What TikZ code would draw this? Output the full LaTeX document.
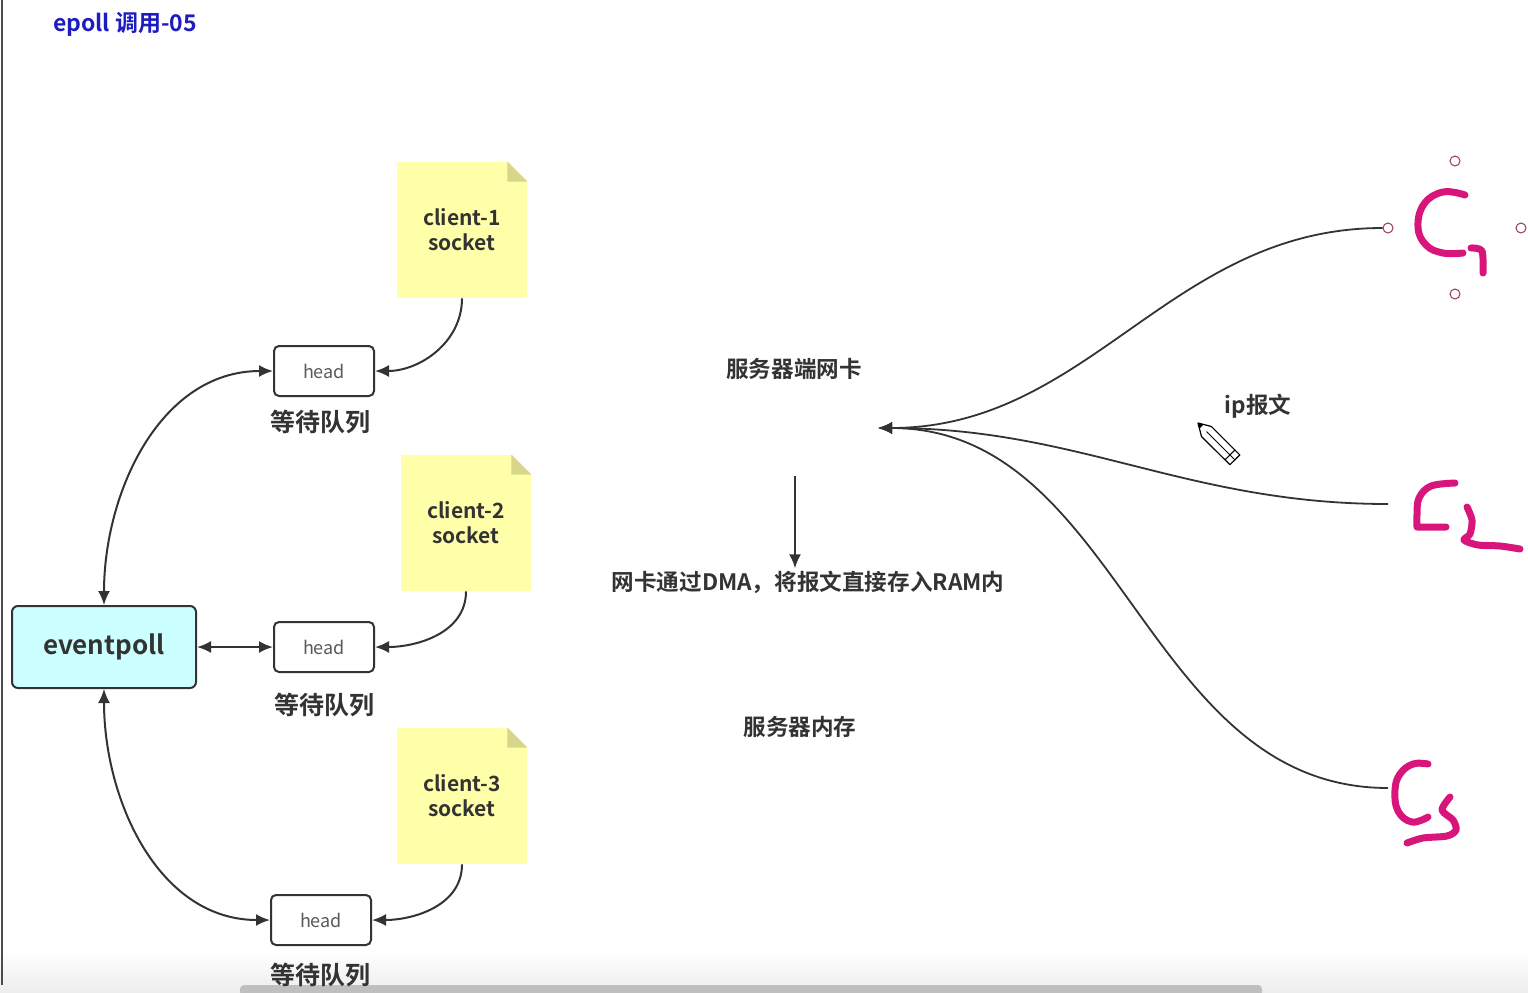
\documentclass[tikz,border=0pt]{standalone}
\usepackage{fontspec}
\setmainfont{Noto Sans CJK SC}[BoldFont={Noto Sans CJK SC Bold}]
\usetikzlibrary{arrows.meta,positioning}
\definecolor{noteyellow}{HTML}{FFFFAA}
\definecolor{notefold}{HTML}{D8D68C}
\definecolor{epcyan}{HTML}{CCFFFF}
\definecolor{inkpink}{HTML}{D8157A}
\definecolor{titleblue}{HTML}{1C1CC0}
\definecolor{linegray}{HTML}{333333}
\definecolor{handlered}{HTML}{9E3A4E}

\tikzset{
  note/.style={fill=noteyellow, minimum width=65pt, minimum height=68pt, align=center,
    font=\fontsize{10.5}{12.5}\selectfont\bfseries, text=linegray},
  headbox/.style={draw=linegray, line width=1pt, rounded corners=2.5pt, fill=white,
    minimum width=50pt, minimum height=25pt, font=\fontsize{9}{10}\selectfont, text=black!65},
  qlabel/.style={font=\fontsize{12.5}{14}\selectfont\bfseries, text=linegray},
  plain/.style={font=\fontsize{11.3}{13}\selectfont\bfseries, text=linegray, inner sep=1pt},
  link/.style={draw=linegray, line width=1pt},
  wire/.style={draw=linegray, line width=0.9pt},
  ink/.style={draw=inkpink, line width=3.5pt, line cap=round, line join=round},
  handle/.style={draw=handlered, fill=white, line width=0.5pt, circle, inner sep=0pt, minimum size=5pt},
}

\begin{document}
\begin{tikzpicture}[x=0.5pt, y=-0.5pt, >={Latex[length=7pt,width=6pt]}]
    \useasboundingbox (0,0) rectangle (1528,992);
    % window frame
    \shade[top color=white, bottom color=black!7] (0,950) rectangle (1528,992);
    \fill[black!25, rounded corners=2pt] (240,985) rectangle (1262,996);
    \draw[black!70, line width=1pt] (2,0) -- (2,985);

    \node[anchor=west, text=titleblue, font=\fontsize{11.5}{13}\selectfont\bfseries] (title) at (46,24) {epoll 调用-05};

    % sockets and wait queues
    \node[note] (n1) at (462,230) {client-1\\socket};
    \node[note] (n2) at (466,523) {client-2\\socket};
    \node[note] (n3) at (462,796) {client-3\\socket};
    \foreach \n in {n1,n2,n3} {
        \fill[white] (\n.north east) -- ([xshift=-10pt]\n.north east) -- ([yshift=-10pt]\n.north east) -- cycle;
        \fill[notefold] ([xshift=-10pt]\n.north east) -- ([xshift=-10pt,yshift=-10pt]\n.north east) -- ([yshift=-10pt]\n.north east) -- cycle;
    }
    \node[headbox] (h1) at (324,371) {head};
    \node[headbox] (h2) at (324,647) {head};
    \node[headbox] (h3) at (321,920) {head};
    \node[qlabel] (q1) at (320,422) {等待队列};
    \node[qlabel] (q2) at (324,705) {等待队列};
    \node[qlabel] (q3) at (320,975) {等待队列};

    \node[draw=linegray, line width=1pt, fill=epcyan, rounded corners=3pt, minimum width=92pt,
        minimum height=41pt, font=\fontsize{13}{15}\selectfont\bfseries, text=linegray] (ep) at (104,647) {eventpoll};

    \draw[link, ->] (n1.south) to[out=-90, in=0] (h1.east);
    \draw[link, ->] (n2.south) to[out=-90, in=0] (h2.east);
    \draw[link, ->] (n3.south) to[out=-90, in=0] (h3.east);
    \draw[link, <->] (ep.north) to[out=90, in=180] (h1.west);
    \draw[link, <->] (ep.east) -- (h2.west);
    \draw[link, <->] (ep.south) to[out=-90, in=180] (h3.west);

    % server side
    \node[plain] (nic) at (794,369) {服务器端网卡};
    \node[plain] (ip) at (1258,406) {ip报文};
    \node[plain] (dma) at (808,582) {网卡通过DMA，将报文直接存入RAM内};
    \node[plain] (mem) at (800,727) {服务器内存};
    \coordinate (tip) at (878,428);
    \coordinate (dmatop) at (795,476);
    \coordinate (c2) at (1388,504);
    \coordinate (c3) at (1388,788);
    \node[handle] (hl) at (1388,228) {};
    \node[handle] (ht) at (1455,161) {};
    \node[handle] (hr) at (1521,228) {};
    \node[handle] (hb) at (1455,294) {};

    \draw[wire, <-] (tip) to[out=0, in=180] (hl);
    \draw[wire, <-] (tip) to[out=0, in=180] (c2);
    \draw[wire, <-] (tip) to[out=0, in=180] (c3);
    \draw[link, ->] (dmatop) -- (dmatop |- dma.north);

    % pencil cursor
    \draw[black, line width=0.6pt, fill=white, line join=round]
        (1198,423) -- (1211.4,426.5) -- (1239.8,454.9) -- (1229.9,464.7) -- (1201.5,436.5) -- cycle;
    \fill[black] (1198,423) -- (1203.5,424.5) -- (1199.5,428.5) -- cycle;
    \draw[black, line width=0.5pt] (1206.5,431.5) -- (1234.8,459.8);
    \draw[black, line width=0.5pt] (1234.9,450) -- (1225,459.8);

    % handwriting
    \draw[ink] plot[smooth, tension=0.7] coordinates {(1465,195) (1443,192) (1424,204) (1418,227) (1426,245) (1443,253) (1463,253)};
    \draw[ink] plot[smooth, tension=0.5] coordinates {(1471,248) (1482,251) (1483,273)};
    \draw[ink] plot[smooth, tension=0.6] coordinates {(1455,483) (1431,486) (1419,498) (1417,515) (1417,527)} -- (1446,527);
    \draw[ink] plot[smooth, tension=0.5] coordinates {(1467,507) (1472,520) (1470,534) (1464,540) (1478,545) (1500,546) (1520,549)};
    \draw[ink] plot[smooth, tension=0.7] coordinates {(1428,764) (1413,764) (1400,774) (1395,790) (1398,811) (1412,822) (1428,817)};
    \draw[ink] plot[smooth, tension=0.5] coordinates {(1450,797) (1442,810) (1453,820) (1456,830) (1447,836) (1423,838) (1407,843)};
\end{tikzpicture}
\end{document}
